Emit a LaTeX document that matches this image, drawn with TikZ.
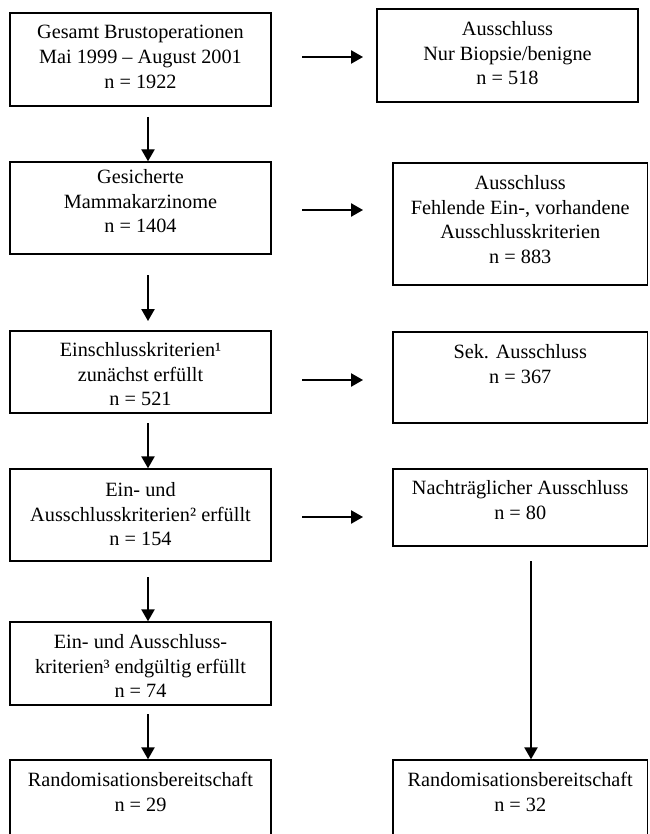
\documentclass[tikz,border=0pt]{standalone}
\usepackage{fontspec}
\setmainfont{Liberation Serif}
\usetikzlibrary{fit,calc,arrows.meta}
\tikzset{
  box/.style={draw, line width=1.1pt, inner sep=0pt},
  txt/.style={anchor=north, align=center, inner sep=0pt, font=\fontsize{15.2}{18.4}\selectfont},
  arr/.style={line width=1.1pt, -{Triangle[width=10pt,length=9pt]}},
  ln/.style={line width=1.1pt}
}
\begin{document}
\begin{tikzpicture}[x=0.75pt,y=-0.75pt]
\useasboundingbox (0,0) rectangle (649,834);
\clip (0,0) rectangle (649,834);
% left column boxes
\node[box, fit={(10,13) (271,106)}] (l1) {};
\node[box, fit={(10,162) (271,254)}] (l2) {};
\node[box, fit={(10,331) (271,413)}] (l3) {};
\node[box, fit={(10,469) (271,561)}] (l4) {};
\node[box, fit={(10,622) (271,705)}] (l5) {};
\node[box, fit={(10,760) (271,850)}] (l6) {};
% right column boxes
\node[box, fit={(377,9) (638,102)}] (r1) {};
\node[box, fit={(393,163) (647.5,285)}] (r2) {};
\node[box, fit={(393,332) (647.5,423)}] (r3) {};
\node[box, fit={(393,469) (647.5,546)}] (r4) {};
\node[box, fit={(393,760) (647.5,850)}] (r6) {};
% texts
\node[txt] (t1) at ($(l1.north)+(0,13)$) {Gesamt Brustoperationen\\Mai 1999 – August 2001\\n = 1922};
\node[txt] (t2) at ($(l2.north)+(0,8)$) {Gesicherte\\Mammakarzinome\\n = 1404};
\node[txt] (t3) at ($(l3.north)+(0,12)$) {Einschlusskriterien¹\\zunächst erfüllt\\n = 521};
\node[txt] (t4) at ($(l4.north)+(0,14)$) {Ein- und\\Ausschlusskriterien² erfüllt\\n = 154};
\node[txt] (t5) at ($(l5.north)+(0,13)$) {Ein- und Ausschluss-\\kriterien³ endgültig erfüllt\\n = 74};
\node[txt] (t6) at ($(l6.north)+(0,13)$) {Randomisationsbereitschaft\\n = 29};
\node[txt] (u1) at ($(r1.north)+(0,13)$) {Ausschluss\\Nur Biopsie/benigne\\n = 518};
\node[txt] (u2) at ($(r2.north)+(0,13)$) {Ausschluss\\Fehlende Ein-, vorhandene\\Ausschlusskriterien\\n = 883};
\node[txt] (u3) at ($(r3.north)+(0,13)$) {Sek. Ausschluss\\n = 367};
\node[txt] (u4) at ($(r4.north)+(0,12)$) {Nachträglicher Ausschluss\\n = 80};
\node[txt] (u6) at ($(r6.north)+(0,13)$) {Randomisationsbereitschaft\\n = 32};
% horizontal arrows (free ends)
\coordinate (h1s) at (302,57);  \coordinate (h1e) at (363,57);
\coordinate (h2s) at (302,210); \coordinate (h2e) at (363,210);
\coordinate (h3s) at (302,380); \coordinate (h3e) at (363,380);
\coordinate (h4s) at (302,517); \coordinate (h4e) at (363,517);
\draw[arr] (h1s) -- (h1e);
\draw[arr] (h2s) -- (h2e);
\draw[arr] (h3s) -- (h3e);
\draw[arr] (h4s) -- (h4e);
% vertical arrows left
\coordinate (v1) at (148,117);
\coordinate (v2) at (148,275); \coordinate (v2e) at (148,321);
\coordinate (v3) at (148,423);
\coordinate (v4) at (148,577);
\coordinate (v5) at (148,714);
\draw[arr] (v1) -- (v1 |- l2.north);
\draw[arr] (v2) -- (v2e);
\draw[arr] (v3) -- (v3 |- l4.north);
\draw[arr] (v4) -- (v4 |- l5.north);
\draw[arr] (v5) -- (v5 |- l6.north);
% right vertical arrow
\coordinate (w1) at (531,561);
\draw[arr] (w1) -- (w1 |- r6.north);
\end{tikzpicture}
\end{document}
